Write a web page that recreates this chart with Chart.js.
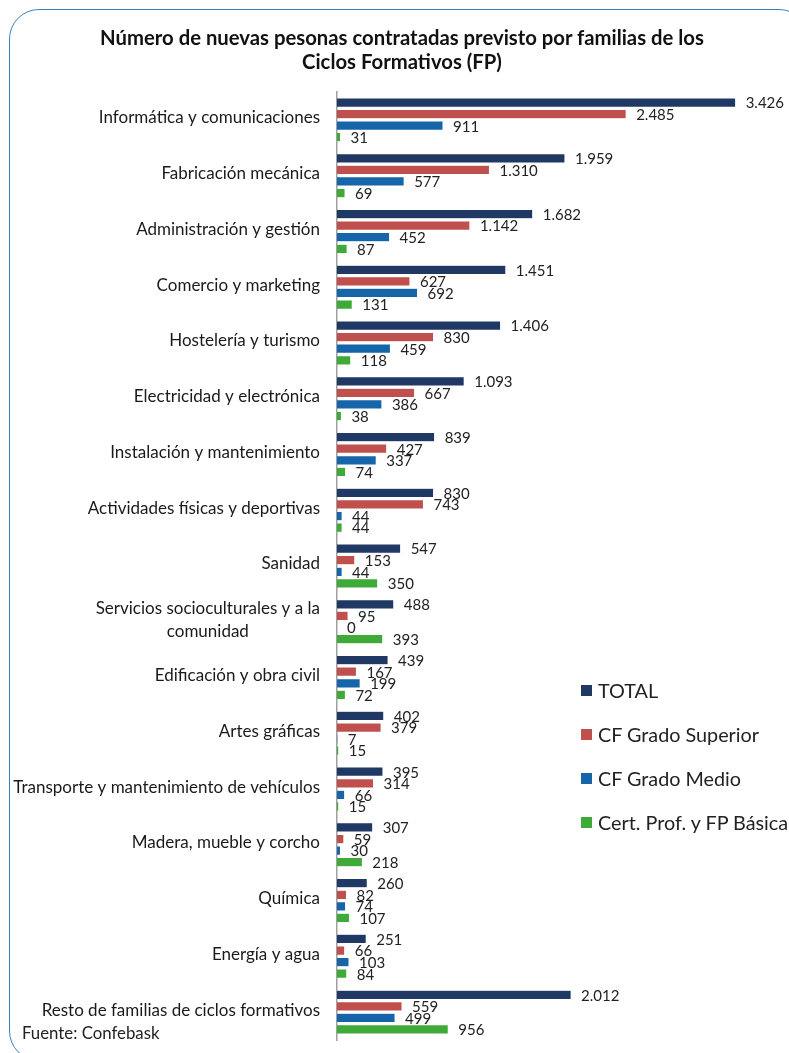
<!DOCTYPE html>
<html>
<head>
<meta charset="utf-8">
<script src="https://cdn.jsdelivr.net/npm/chart.js@4"></script>
<style>
  html, body { margin: 0; padding: 0; background: #fff; overflow: hidden; }
  body { width: 789px; height: 1053px; position: relative; font-family: Lato, "Open Sans", sans-serif; color: #222; }
  #frame { position: absolute; left: 9px; top: 9px; width: 800px; height: 1052px; border: 1.5px solid #3c7fc0; border-radius: 30px; box-sizing: border-box; }
  #title { position: absolute; left: 0; top: 25px; width: 804px; text-align: center; font-weight: bold; font-size: 20.3px; line-height: 24px; color: #111; }
  #source { position: absolute; left: 22px; top: 1022px; font-size: 16.8px; }
  #legend { position: absolute; left: 581px; top: 678px; white-space: nowrap; }
  .item { height: 44px; font-size: 19.8px; display: flex; align-items: flex-start; }
  .box { width: 11px; height: 11px; margin: 7px 6px 0 0; flex: none; }
  canvas { position: absolute; left: 0; top: 0; }
</style>
</head>
<body>
<div id="frame"></div>
<canvas id="chart" width="789" height="1053"></canvas>
<div id="title">Número de nuevas pesonas contratadas previsto por familias de los<br>Ciclos Formativos (FP)</div>
<div id="legend"></div>
<div id="source">Fuente: Confebask</div>
<script>
const categories = [
  'Informática y comunicaciones',
  'Fabricación mecánica',
  'Administración y gestión',
  'Comercio y marketing',
  'Hostelería y turismo',
  'Electricidad y electrónica',
  'Instalación y mantenimiento',
  'Actividades físicas y deportivas',
  'Sanidad',
  ['Servicios socioculturales y a la', 'comunidad'],
  'Edificación y obra civil',
  'Artes gráficas',
  'Transporte y mantenimiento de vehículos',
  'Madera, mueble y corcho',
  'Química',
  'Energía y agua',
  'Resto de familias de ciclos formativos'
];
const seriesNames = ['TOTAL', 'CF Grado Superior', 'CF Grado Medio', 'Cert. Prof. y FP Básica'];
const total =    [3426, 1959, 1682, 1451, 1406, 1093, 839, 830, 547, 488, 439, 402, 395, 307, 260, 251, 2012];
const superior = [2485, 1310, 1142, 627, 830, 667, 427, 743, 153, 95, 167, 379, 314, 59, 82, 66, 559];
const medio =    [911, 577, 452, 692, 459, 386, 337, 44, 44, 0, 199, 7, 66, 30, 74, 103, 499];
const basica =   [31, 69, 87, 131, 118, 38, 74, 44, 350, 393, 72, 15, 15, 218, 107, 84, 956];
const colors = ['#1f3864', '#c0504d', '#1565a8', '#3faa38'];

const FONT = 'Lato, "Open Sans", sans-serif';
function fmt(v) {
  return String(v).replace(/\B(?=(\d{3})+(?!\d))/g, '.');
}

const valueLabels = {
  id: 'valueLabels',
  afterDatasetsDraw(chart) {
    const ctx = chart.ctx;
    ctx.save();
    ctx.font = '15px ' + FONT;
    ctx.fillStyle = '#222';
    ctx.textAlign = 'left';
    ctx.textBaseline = 'middle';
    chart.data.datasets.forEach((ds, i) => {
      chart.getDatasetMeta(i).data.forEach((bar, j) => {
        ctx.fillText(fmt(ds.data[j]), bar.x + 10, bar.y + 1);
      });
    });
    ctx.restore();
  }
};

// category labels: right-aligned block, wrapped lines centred within it
const catLabels = {
  id: 'catLabels',
  afterDraw(chart) {
    const ctx = chart.ctx;
    const y = chart.scales.y;
    ctx.save();
    ctx.font = '17px ' + FONT;
    ctx.fillStyle = '#1a1a1a';
    ctx.textBaseline = 'middle';
    const right = y.right - 17;
    categories.forEach((lab, i) => {
      const py = y.getPixelForTick(i) - 2;
      if (Array.isArray(lab)) {
        const w = Math.max(...lab.map(l => ctx.measureText(l).width));
        ctx.textAlign = 'center';
        lab.forEach((l, k) => {
          ctx.fillText(l, right - w / 2, py + (k - (lab.length - 1) / 2) * 23);
        });
      } else {
        ctx.textAlign = 'right';
        ctx.fillText(lab, right, py);
      }
    });
    ctx.restore();
  }
};

const series = [total, superior, medio, basica];
new Chart(document.getElementById('chart'), {
  type: 'bar',
  data: {
    labels: categories,
    datasets: series.map((d, i) => ({
      label: seriesNames[i],
      data: d,
      backgroundColor: colors[i],
      borderColor: 'rgba(255,255,255,0.5)',
      borderWidth: 0.5,
      categoryPercentage: 0.83,
      barPercentage: 0.8
    }))
  },
  options: {
    indexAxis: 'y',
    responsive: false,
    animation: false,
    devicePixelRatio: 1,
    layout: { padding: { top: 92, bottom: 13, left: 0, right: 4 } },
    plugins: {
      legend: { display: false },
      tooltip: { enabled: false }
    },
    scales: {
      x: { display: false, min: 0, max: 3850 },
      y: {
        afterFit: s => { s.width = 337; },
        ticks: { display: false },
        grid: { display: false },
        border: { display: true, color: '#a0a0a0', width: 1.5 }
      }
    }
  },
  plugins: [valueLabels, catLabels]
});

const legend = document.getElementById('legend');
seriesNames.forEach((n, i) => {
  legend.insertAdjacentHTML('beforeend',
    '<div class="item"><div class="box" style="background:' + colors[i] + '"></div>' + n + '</div>');
});
</script>
</body>
</html>
